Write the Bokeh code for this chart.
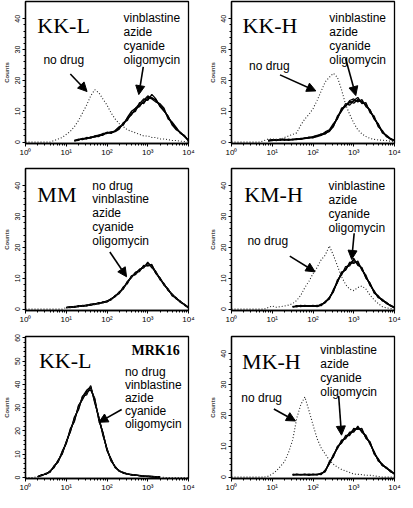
from bokeh.plotting import figure
from bokeh.models import Range1d, FixedTicker, Arrow, NormalHead, Label
from bokeh.layouts import column, row
from bokeh.embed import file_html
from bokeh.resources import INLINE

# ---------------- data ----------------
# fluorescence channel, log10 of intensity
log_channel = [0.0, 0.1, 0.2, 0.3, 0.4, 0.5, 0.6, 0.7, 0.8, 0.9,
               1.0, 1.1, 1.2, 1.3, 1.4, 1.5, 1.6, 1.7, 1.8, 1.9,
               2.0, 2.1, 2.2, 2.3, 2.4, 2.5, 2.6, 2.7, 2.8, 2.9,
               3.0, 3.1, 3.2, 3.3, 3.4, 3.5, 3.6, 3.7, 3.8, 3.9,
               4.0]
x_tick_labels = ["10\u2070", "10\u00b9", "10\u00b2", "10\u00b3", "10\u2074"]
treatments = ["vinblastine", "azide", "cyanide", "oligomycin"]

# KK-L
kkl_nodrug = [0, 0, 0, 0, 0, 0, 0, 0.5, 1.0, 1.5,
              2.5, 3.5, 5.0, 7.0, 9.5, 12.0, 15.0, 17.0, 16.0, 14.0,
              12.0, 9.5, 7.5, 6.0, 5.0, 4.0, 3.5, 3.0, 2.5, 2.0,
              2.0, 1.5, 1.5, 1.0, 1.0, 0.8, 0.5, 0.5, 0.3, 0.2,
              0]
kkl_vinblastine = [0, 0, 0, 0, 0, 0, 0, 0, 0, 0,
                   0, 0, 0.5, 0.8, 1.0, 1.2, 1.5, 1.8, 2.0, 2.5,
                   3.0, 3.0, 3.5, 4.5, 6.0, 7.5, 9.0, 10.5, 12.0, 13.0,
                   14.0, 14.5, 13.5, 12.0, 10.5, 8.0, 6.0, 4.5, 3.0, 2.0,
                   0.5]
kkl_azide = [0, 0, 0, 0, 0, 0, 0, 0, 0, 0,
             0, 0, 0.3, 1.0, 0.8, 1.5, 1.3, 2.0, 2.3, 2.2,
             3.2, 2.8, 3.8, 5.0, 5.5, 8.0, 10.0, 11.0, 12.5, 14.0,
             13.5, 15.5, 14.0, 11.5, 10.0, 8.5, 5.5, 4.0, 3.2, 1.8,
             0.6]
kkl_cyanide = [0, 0, 0, 0, 0, 0, 0, 0, 0, 0,
               0, 0, 0.4, 0.6, 1.2, 1.0, 1.7, 1.6, 2.2, 2.8,
               2.8, 3.3, 3.4, 4.2, 6.3, 7.0, 9.5, 10.0, 12.8, 12.5,
               14.5, 14.0, 13.0, 12.5, 11.0, 7.5, 6.5, 4.8, 2.8, 2.2,
               0.4]
kkl_oligomycin = [0, 0, 0, 0, 0, 0, 0, 0, 0, 0,
                  0, 0, 0.6, 0.7, 1.1, 1.3, 1.4, 1.9, 1.8, 2.6,
                  3.1, 3.2, 3.6, 4.8, 5.8, 7.8, 8.8, 11.0, 11.5, 13.5,
                  15.0, 14.2, 13.8, 11.8, 10.2, 8.2, 6.2, 4.2, 3.1, 1.9,
                  0.5]

# KK-H
kkh_nodrug = [0, 0, 0, 0, 0, 0, 0, 0, 0.5, 1.0,
              1.0, 0.8, 1.0, 1.5, 2.0, 2.5, 3.0, 5.5, 7.5, 9.0,
              10.8, 13.5, 16.5, 19.5, 21.0, 22.3, 21.0, 17.0, 12.2, 9.0,
              6.2, 4.0, 2.7, 1.8, 1.2, 0.9, 0.7, 0.6, 0.5, 0.3,
              0]
kkh_vinblastine = [0, 0, 0, 0, 0, 0, 0, 0, 0, 0.5,
                   0.6, 0.7, 0.8, 0.8, 0.8, 0.8, 0.9, 1.0, 1.2, 1.4,
                   1.5, 1.8, 2.2, 2.8, 3.6, 5.5, 8.0, 10.5, 12.0, 12.8,
                   13.4, 13.5, 13.0, 12.2, 10.0, 7.9, 5.5, 3.3, 2.0, 1.0,
                   0.5]
kkh_azide = [0, 0, 0, 0, 0, 0, 0, 0, 0, 0.3,
             0.8, 0.5, 1.0, 0.6, 1.0, 0.7, 1.1, 0.9, 1.4, 1.3,
             1.8, 2.2, 2.3, 3.3, 4.0, 6.0, 7.5, 11.0, 11.5, 13.5,
             14.0, 13.0, 13.8, 11.5, 10.5, 7.5, 6.0, 3.0, 2.3, 1.2,
             0.6]
kkh_cyanide = [0, 0, 0, 0, 0, 0, 0, 0, 0, 0.4,
               0.5, 0.9, 0.6, 1.0, 0.7, 0.9, 0.8, 1.2, 1.1, 1.6,
               1.4, 1.9, 2.7, 2.6, 3.8, 5.0, 8.5, 10.0, 12.5, 12.0,
               13.5, 14.5, 12.5, 12.8, 9.5, 8.5, 5.0, 3.8, 1.8, 1.1,
               0.4]
kkh_oligomycin = [0, 0, 0, 0, 0, 0, 0, 0, 0, 0.6,
                  0.7, 0.6, 0.9, 0.9, 0.6, 1.0, 0.9, 1.1, 1.3, 1.5,
                  1.7, 2.1, 2.4, 3.1, 3.4, 5.2, 7.8, 10.2, 11.8, 13.2,
                  12.6, 13.8, 13.2, 12.0, 10.4, 7.6, 5.8, 3.4, 2.1, 0.9,
                  0.5]

# MM
mm_nodrug = [0, 0, 0, 0, 0, 0, 0, 0, 0, 0,
             0.5, 0.6, 0.8, 0.9, 1.0, 1.2, 1.4, 1.6, 1.9, 2.2,
             2.5, 3.2, 4.2, 5.3, 6.8, 8.5, 10.5, 11.5, 12.5, 13.8,
             14.5, 13.8, 11.8, 9.8, 8.0, 6.3, 4.6, 3.5, 2.4, 1.4,
             0.5]
mm_vinblastine = [0, 0, 0, 0, 0, 0, 0, 0, 0, 0,
                  0.4, 0.8, 0.6, 1.0, 0.9, 1.3, 1.3, 1.8, 1.7, 2.4,
                  2.3, 3.4, 4.0, 5.6, 6.5, 9.0, 10.2, 12.0, 12.2, 14.2,
                  14.0, 14.5, 11.5, 10.2, 7.7, 6.6, 4.3, 3.7, 2.2, 1.6,
                  0.6]
mm_azide = [0, 0, 0, 0, 0, 0, 0, 0, 0, 0,
            0.6, 0.5, 0.9, 0.8, 1.2, 1.0, 1.5, 1.5, 2.1, 2.0,
            2.7, 3.0, 4.4, 5.0, 7.2, 8.2, 10.8, 11.2, 13.0, 13.4,
            15.2, 13.4, 12.2, 9.5, 8.3, 6.0, 4.9, 3.3, 2.6, 1.3,
            0.4]
mm_cyanide = [0, 0, 0, 0, 0, 0, 0, 0, 0, 0,
              0.5, 0.7, 0.7, 1.1, 0.9, 1.2, 1.6, 1.7, 1.8, 2.3,
              2.6, 3.3, 4.1, 5.5, 6.6, 8.8, 10.4, 11.8, 12.8, 13.6,
              14.8, 14.2, 12.0, 10.0, 7.9, 6.4, 4.5, 3.4, 2.5, 1.5,
              0.5]
mm_oligomycin = [0, 0, 0, 0, 0, 0, 0, 0, 0, 0,
                 0.5, 0.6, 0.8, 0.8, 1.1, 1.3, 1.3, 1.7, 2.0, 2.1,
                 2.4, 3.1, 4.3, 5.2, 7.0, 8.6, 10.6, 11.4, 12.6, 14.0,
                 14.2, 14.0, 11.6, 9.9, 8.1, 6.2, 4.7, 3.6, 2.3, 1.4,
                 0.5]

# KM-H
kmh_nodrug = [0, 0, 0, 0, 0, 0, 0, 0, 0, 0.5,
              1.0, 0.6, 0.8, 1.0, 1.3, 1.8, 2.8, 4.5, 7.0, 9.0,
              11.5, 13.5, 16.0, 17.5, 20.5, 17.5, 14.0, 10.5, 8.0, 6.5,
              6.0, 7.0, 7.5, 6.5, 4.5, 3.0, 1.8, 0.8, 0.4, 0.2,
              0]
kmh_vinblastine = [0, 0, 0, 0, 0, 0, 0, 0, 0, 0,
                   0, 0, 0, 0, 0, 0.8, 0.9, 1.0, 1.0, 1.0,
                   1.0, 1.0, 1.3, 2.2, 3.5, 6.0, 9.0, 11.5, 13.0, 14.5,
                   15.3, 15.0, 13.0, 10.5, 8.0, 5.7, 4.0, 3.0, 2.0, 1.2,
                   0.5]
kmh_azide = [0, 0, 0, 0, 0, 0, 0, 0, 0, 0,
             0, 0, 0, 0, 0, 0.6, 1.1, 0.8, 1.2, 0.9,
             1.2, 0.8, 1.6, 2.0, 3.8, 5.5, 9.5, 11.0, 13.8, 14.0,
             16.5, 14.2, 13.5, 10.0, 8.5, 5.2, 4.4, 2.7, 2.2, 1.0,
             0.4]
kmh_cyanide = [0, 0, 0, 0, 0, 0, 0, 0, 0, 0,
               0, 0, 0, 0, 0, 0.9, 0.7, 1.2, 0.9, 1.1,
               0.9, 1.2, 1.1, 2.5, 3.2, 6.4, 8.6, 12.0, 12.6, 15.2,
               14.8, 15.6, 12.6, 11.0, 7.6, 6.0, 3.7, 3.2, 1.8, 1.3,
               0.6]
kmh_oligomycin = [0, 0, 0, 0, 0, 0, 0, 0, 0, 0,
                  0, 0, 0, 0, 0, 0.7, 1.0, 0.9, 1.1, 1.0,
                  1.1, 0.9, 1.4, 2.3, 3.7, 5.8, 8.8, 11.8, 12.8, 14.8,
                  15.8, 14.6, 13.2, 10.2, 8.3, 5.5, 3.9, 2.9, 2.1, 1.1,
                  0.5]

# KK-L with MRK16
mrk_nodrug = [0, 0, 0, 0.3, 1.0, 1.5, 2.5, 4.5, 7.0, 10.5,
              15.0, 20.0, 25.0, 30.0, 34.5, 36.0, 39.0, 33.0, 25.5, 18.5,
              12.0, 7.5, 4.5, 2.8, 2.0, 1.5, 1.2, 1.0, 0.8, 0.6,
              0.5, 0.4, 0.3, 0.2, 0, 0, 0, 0, 0, 0,
              0]
mrk_vinblastine = [0, 0, 0, 0.5, 0.8, 1.8, 2.2, 5.0, 6.5, 11.0,
                   14.5, 21.0, 24.0, 31.0, 33.5, 37.0, 37.5, 34.0, 24.5, 19.5,
                   11.5, 8.0, 4.2, 3.0, 1.8, 1.6, 1.0, 1.1, 0.7, 0.5,
                   0.6, 0.3, 0.2, 0.3, 0, 0, 0, 0, 0, 0,
                   0]
mrk_azide = [0, 0, 0, 0.2, 1.2, 1.3, 2.8, 4.2, 7.5, 10.0,
             15.5, 19.5, 26.0, 29.0, 35.0, 35.5, 39.5, 32.0, 26.0, 18.0,
             12.5, 7.0, 4.8, 2.6, 2.2, 1.4, 1.3, 0.9, 0.9, 0.6,
             0.4, 0.5, 0.2, 0.1, 0, 0, 0, 0, 0, 0,
             0]
mrk_cyanide = [0, 0, 0, 0.4, 0.9, 1.6, 2.4, 4.8, 6.8, 11.2,
               14.8, 20.5, 24.5, 30.5, 34.0, 36.5, 38.5, 33.5, 25.0, 19.0,
               11.8, 7.8, 4.4, 2.9, 1.9, 1.5, 1.1, 1.0, 0.8, 0.7,
               0.5, 0.4, 0.3, 0.2, 0, 0, 0, 0, 0, 0,
               0]
mrk_oligomycin = [0, 0, 0, 0.3, 1.1, 1.4, 2.6, 4.4, 7.2, 10.2,
                  15.2, 19.8, 25.5, 29.5, 34.8, 37.5, 39.0, 32.5, 25.8, 18.8,
                  12.2, 7.2, 4.6, 2.7, 2.1, 1.4, 1.2, 1.0, 0.8, 0.5,
                  0.5, 0.3, 0.2, 0.2, 0, 0, 0, 0, 0, 0,
                  0]

# MK-H
mkh_nodrug = [0, 0, 0, 0, 0, 0, 0, 0, 0, 0.3,
              1.0, 2.0, 3.5, 5.0, 8.0, 12.0, 19.0, 23.5, 26.0, 21.6,
              17.0, 12.5, 9.5, 7.5, 5.5, 4.2, 3.2, 2.5, 2.0, 1.5,
              1.0, 0.9, 0.8, 0.6, 0.6, 0.4, 0.2, 0, 0, 0,
              0]
mkh_vinblastine = [0, 0, 0, 0, 0, 0, 0, 0, 0, 0,
                   0, 0, 0, 0, 0, 0.8, 0.8, 0.8, 0.8, 0.8,
                   0.8, 0.8, 1.0, 2.0, 4.5, 7.0, 9.5, 11.5, 12.8, 14.0,
                   15.0, 16.0, 15.0, 13.0, 11.0, 8.0, 5.5, 4.0, 3.0, 2.0,
                   1.0]
mkh_azide = [0, 0, 0, 0, 0, 0, 0, 0, 0, 0,
             0, 0, 0, 0, 0, 0.6, 1.0, 0.7, 1.0, 0.6,
             1.0, 0.7, 1.3, 1.7, 5.0, 6.5, 10.0, 11.0, 13.5, 13.5,
             15.8, 15.5, 15.8, 12.5, 11.5, 7.5, 6.0, 3.7, 3.2, 1.7,
             1.2]
mkh_cyanide = [0, 0, 0, 0, 0, 0, 0, 0, 0, 0,
               0, 0, 0, 0, 0, 1.0, 0.7, 0.9, 0.7, 1.0,
               0.7, 1.0, 0.8, 2.3, 4.2, 7.3, 9.2, 12.0, 12.4, 14.6,
               14.6, 16.5, 14.5, 13.6, 10.6, 8.4, 5.2, 4.3, 2.8, 2.2,
               0.9]
mkh_oligomycin = [0, 0, 0, 0, 0, 0, 0, 0, 0, 0,
                  0, 0, 0, 0, 0, 0.8, 0.9, 0.8, 0.9, 0.8,
                  0.9, 0.8, 1.1, 1.9, 4.7, 6.8, 9.8, 11.2, 13.0, 14.2,
                  15.4, 15.8, 15.2, 12.8, 11.2, 7.8, 5.8, 3.8, 3.1, 1.9,
                  1.1]

# ---------------- drawing ----------------
FW, FH = 163, 142
SANS = "Liberation Sans"
SERIF = "Liberation Serif"
x_vals = [10 ** v for v in log_channel]


def trimmed(vals):
    idx = [i for i, v in enumerate(vals) if v > 0]
    a, b = idx[0], idx[-1] + 1
    return x_vals[a:b], vals[a:b]


def make_panel(title, nodrug, solids, ymax, yticks, left, right, top, bottom,
               block, block_pos, nodrug_pos, arrows, line_px=14, extra=None):
    ymin = -0.45
    p = figure(frame_width=FW, frame_height=FH, x_axis_type="log",
               x_range=Range1d(1, 1e4), y_range=Range1d(ymin, ymax),
               output_backend="svg", toolbar_location=None,
               min_border_left=left, min_border_right=right,
               min_border_top=top, min_border_bottom=bottom,
               background_fill_color="white", border_fill_color="white")
    p.xgrid.visible = False
    p.ygrid.visible = False
    p.outline_line_color = "black"
    p.outline_line_width = 1.3

    # axes
    p.xaxis.ticker = FixedTicker(
        ticks=[1, 10, 100, 1000, 10000],
        minor_ticks=[m * 10 ** d for d in range(4) for m in range(2, 10)])
    p.xaxis.major_label_overrides = {t: lab for t, lab in
                                     zip([1, 10, 100, 1000, 10000], x_tick_labels)}
    p.yaxis.ticker = FixedTicker(ticks=yticks,
                                 minor_ticks=list(range(0, int(yticks[-1]) + 1, 2)))
    for ax in (p.xaxis[0], p.yaxis[0]):
        ax.axis_line_color = "black"
        ax.axis_line_width = 1.3
        ax.major_tick_line_color = "black"
        ax.minor_tick_line_color = "black"
        ax.major_tick_in = 0
        ax.major_tick_out = 3
        ax.minor_tick_in = 0
        ax.minor_tick_out = 2
        ax.major_label_text_font = SANS
        ax.major_label_text_color = "black"
    p.xaxis.major_label_text_font_size = "8px"
    p.xaxis.major_label_standoff = 1
    p.yaxis.major_label_text_font_size = "7px"
    p.yaxis.major_label_orientation = "vertical"
    p.yaxis.major_label_standoff = 2
    p.yaxis.axis_label = "Counts"
    p.yaxis.axis_label_text_font = SANS
    p.yaxis.axis_label_text_font_size = "6px"
    p.yaxis.axis_label_text_font_style = "bold"
    p.yaxis.axis_label_standoff = 3

    # curves
    for s in solids:
        xs, ys = trimmed(s)
        p.line(xs, ys, line_color="black", line_width=1.3)
    p.line(x_vals, nodrug, line_color="#222222", line_width=1.1, line_dash="1 2")

    # texts
    per_px = (ymax - ymin) / FH
    p.add_layout(Label(x=10 ** title[1], y=title[2], text=title[0],
                       text_font=SERIF, text_font_size="22px",
                       text_color="black", text_baseline="alphabetic"))
    for k, line in enumerate(block):
        p.add_layout(Label(x=10 ** block_pos[0], y=block_pos[1] - k * line_px * per_px,
                           text=line, text_font=SANS, text_font_size="12px",
                           text_color="black", text_baseline="alphabetic"))
    if nodrug_pos is not None:
        p.add_layout(Label(x=10 ** nodrug_pos[0], y=nodrug_pos[1], text="no drug",
                           text_font=SANS, text_font_size="12px",
                           text_color="black", text_baseline="alphabetic"))
    if extra is not None:
        p.add_layout(Label(x=10 ** extra[1], y=extra[2], text=extra[0],
                           text_font=SERIF, text_font_size="14px",
                           text_font_style="bold", text_color="black",
                           text_baseline="alphabetic"))
    for (xa, ya, xb, yb) in arrows:
        p.add_layout(Arrow(end=NormalHead(size=9, fill_color="black",
                                          line_color="black", line_width=1),
                           x_start=10 ** xa, y_start=ya, x_end=10 ** xb, y_end=yb,
                           line_color="black", line_width=1.6))
    return p


p1 = make_panel(("KK-L", 0.29, 37.8), kkl_nodrug,
                [kkl_vinblastine, kkl_azide, kkl_cyanide, kkl_oligomycin],
                45.6, [0, 10, 20, 30, 40], 22, 18, 1, 20,
                treatments, (2.405, 40.1), (0.44, 26.6),
                [(1.10, 22.1, 1.51, 16.4), (2.89, 24.4, 2.78, 15.4)])
p2 = make_panel(("KK-H", 0.27, 37.8), kkh_nodrug,
                [kkh_vinblastine, kkh_azide, kkh_cyanide, kkh_oligomycin],
                45.6, [0, 10, 20, 30, 40], 22, 12, 1, 20,
                treatments, (2.40, 40.4), (0.43, 24.7),
                [(1.19, 21.8, 2.07, 16.6), (2.80, 27.1, 3.05, 15.1)])
p3 = make_panel(("MM", 0.29, 37.1), mm_nodrug,
                [mm_vinblastine, mm_azide, mm_cyanide, mm_oligomycin],
                45.6, [0, 10, 20, 30, 40], 22, 18, 5, 20,
                ["no drug"] + treatments, (1.64, 40.0), None,
                [(2.07, 18.5, 2.48, 10.5)], line_px=13.7)
p4 = make_panel(("KM-H", 0.31, 37.1), kmh_nodrug,
                [kmh_vinblastine, kmh_azide, kmh_cyanide, kmh_oligomycin],
                45.6, [0, 10, 20, 30, 40], 22, 12, 5, 20,
                treatments, (2.38, 40.0), (0.39, 22.2),
                [(1.43, 17.2, 2.05, 12.1), (3.01, 24.6, 2.95, 16.1)])
p5 = make_panel(("KK-L", 0.33, 50.1), mrk_nodrug,
                [mrk_vinblastine, mrk_azide, mrk_cyanide, mrk_oligomycin],
                60.6, [0, 10, 20, 30, 40, 50, 60], 22, 18, 6, 20,
                ["no drug"] + treatments, (2.44, 45.2), None,
                [(2.36, 29.2, 1.80, 23.7)], line_px=13, extra=("MRK16", 2.6, 54.6))
p6 = make_panel(("MK-H", 0.26, 37.5), mkh_nodrug,
                [mkh_vinblastine, mkh_azide, mkh_cyanide, mkh_oligomycin],
                45.6, [0, 10, 20, 30, 40], 22, 12, 6, 20,
                treatments, (2.18, 41.2), (0.24, 25.6),
                [(1.04, 22.1, 1.57, 18.2), (2.63, 26.3, 2.70, 13.6)])

layout = column(row(p1, p2), row(p3, p4), row(p5, p6))
open("out.html", "w").write(file_html(layout, INLINE))
